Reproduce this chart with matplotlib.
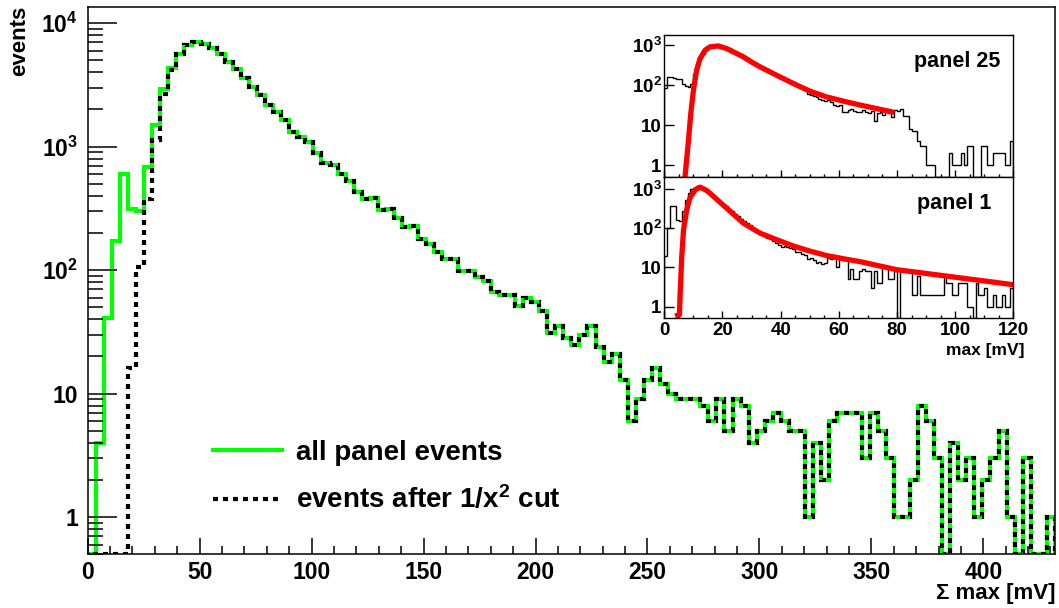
import numpy as np
import matplotlib
matplotlib.use('Agg')
import matplotlib.pyplot as plt
from matplotlib.lines import Line2D
from matplotlib.ticker import FixedLocator, MultipleLocator, LogLocator, NullFormatter

plt.rcParams['font.family'] = ['Liberation Sans', 'DejaVu Sans']
plt.rcParams['font.weight'] = 'bold'
plt.rcParams['mathtext.fontset'] = 'custom'
plt.rcParams['mathtext.rm'] = 'Liberation Sans:bold'
plt.rcParams['mathtext.it'] = 'Liberation Sans:bold'
plt.rcParams['mathtext.bf'] = 'Liberation Sans:bold'

# main histogram: 120 bins of 3.6 mV between 0 and 432 mV
edges = np.linspace(0, 432, 121)
all_events = [0, 4, 41, 173, 605, 312, 303, 689, 1506, 2917,
              4345, 5612, 6633, 7063, 6800, 6300, 5650, 4875, 4285, 3589,
              3034, 2625, 2178, 1901, 1648, 1325, 1207, 1100, 895, 735,
              712, 599, 528, 433, 378, 383, 308, 313, 264, 223,
              228, 178, 163, 139, 124, 122, 99, 99, 88, 82,
              67, 63, 63, 51, 59, 55, 47, 31, 35, 28,
              25, 30, 35, 24, 18, 21, 13, 6, 9, 13,
              16, 12, 10, 9, 9, 9, 8, 6, 9, 5,
              9, 8, 4, 5, 6, 7, 6, 5, 5, 1,
              4, 2, 6, 7, 7, 7, 3, 7, 5, 3,
              1, 1, 2, 8, 6, 3, 0, 4, 2, 3,
              1, 2, 3, 5, 1, 0, 3, 0, 0, 1]
# after the 1/x^2 cut only the first bins differ
cut_low = [0, 0, 0, 0, 0, 16, 107, 374, 1127, 2650, 4150]
after_cut = cut_low + all_events[len(cut_low):]

# insets: 1 mV bins, 0..120 mV
inset_edges = np.arange(0, 121)
panel25 = [83, 160, 160, 150, 140, 140, 110, 95, 88, 110,
           190, 330, 480, 620, 750, 860, 920, 960, 970, 960,
           920, 880, 830, 760, 700, 650, 600, 540, 470, 420,
           380, 350, 320, 290, 265, 250, 220, 200, 190, 175,
           165, 150, 140, 125, 118, 110, 90, 85, 78, 62,
           58, 55, 52, 45, 42, 40, 42, 38, 33, 31,
           32, 22, 21, 24, 25, 23, 22, 21, 24, 22,
           20, 23, 13, 20, 21, 18, 22, 20, 16, 24,
           23, 25, 17, 17, 8, 7, 7, 4, 3, 3,
           1, 1, 1, 0, 0, 0, 0, 0, 2, 1,
           1, 1, 2, 1, 3, 3, 0, 0, 0, 3,
           3, 1, 1, 2, 2, 2, 2, 1, 1, 4]
panel1 = [20, 100, 360, 360, 165, 150, 270, 530, 790, 980,
          1060, 1170, 1100, 1000, 870, 790, 690, 610, 530, 465,
          420, 375, 315, 270, 230, 200, 175, 150, 135, 122,
          100, 95, 83, 72, 64, 56, 53, 46, 43, 38,
          34, 36, 34, 32, 30, 25, 24, 22, 21, 16,
          17, 15, 13, 14, 12, 13, 17, 16, 17, 10,
          16, 15, 15, 5, 9, 5, 5, 8, 9, 8,
          8, 3, 8, 4, 4, 10, 10, 5, 5, 8,
          0, 8, 8, 8, 8, 2, 2, 6, 2, 2,
          2, 2, 2, 2, 2, 2, 6, 4, 4, 2,
          2, 4, 4, 4, 1, 1, 0, 4, 2, 2,
          3, 1, 1, 2, 1, 1, 2, 1, 1, 3]

# fit curves
fit25_x = [7.1, 8.3, 9.1, 10, 11.1, 12.3, 14, 15.7, 18.6, 21.4, 24.3, 27.2,
           30, 32.9, 38.6, 44.4, 50.1, 55.8, 61.6, 67.3, 72, 79.1]
fit25_y = [0.5, 4.2, 19.5, 75, 237, 465, 750, 910, 960, 825, 650, 510,
           380, 288, 178, 110, 71, 51, 40, 32, 27, 21]
fit1_x = [3.7, 5.2, 5.4, 6.0, 6.6, 7.7, 8.8, 10.6, 12.3, 14.6, 16.9, 21.4,
          27.2, 32.9, 38.6, 44.4, 50.1, 55.8, 61.6, 67.3, 80, 90, 100, 110, 120]
fit1_y = [0.57, 0.62, 1.8, 19, 91, 295, 590, 960, 1120, 920, 650, 327,
          134, 75, 51, 35, 26, 20, 16.6, 14, 8.7, 7, 5.6, 4.5, 3.6]


def at_floor(v, low):
    # empty bins are drawn along the bottom of the frame, as ROOT does
    v = np.asarray(v, dtype=float)
    return np.where(v > 0, v, low)


fig = plt.figure(figsize=(10.59, 6.08), dpi=100)
ax = fig.add_axes([0.0828, 0.0883, 0.9134, 0.9007])

ax.stairs(at_floor(all_events, 0.5), edges, color='#00ff00', lw=3.0)
ax.stairs(at_floor(after_cut, 0.5), edges, color='black', lw=3.0,
          linestyle=(0, (1.2, 1.2)))

ax.set_yscale('log')
ax.set_xlim(0, 432)
ax.set_ylim(0.5, 1.36e4)
ax.yaxis.set_major_locator(FixedLocator([1, 10, 100, 1000, 10000]))
ax.set_yticklabels(['1', '10', '$10^{2}$', '$10^{3}$', '$10^{4}$'])
ax.yaxis.set_minor_locator(LogLocator(base=10, subs=np.arange(2, 10)))
ax.yaxis.set_minor_formatter(NullFormatter())
ax.xaxis.set_major_locator(MultipleLocator(50))
ax.xaxis.set_minor_locator(MultipleLocator(10))
ax.tick_params(axis='y', which='major', direction='in', length=21, width=1.1,
               labelsize=16.5, pad=7)
ax.tick_params(axis='y', which='minor', direction='in', length=11, width=1.1)
ax.tick_params(axis='x', which='major', direction='in', length=11.5, width=1.1,
               labelsize=16.5, pad=5)
ax.tick_params(axis='x', which='minor', direction='in', length=6, width=1.1)
for s in ax.spines.values():
    s.set_linewidth(1.1)

fig.text(0.019, 0.99, 'events', rotation=90, ha='center', va='top', fontsize=16)
fig.text(1055 / 1059, 1 - 594 / 608, '\u03a3 max [mV]', ha='right', va='center',
         fontsize=16)

handles = [Line2D([], [], color='#00ff00', lw=3.0),
           Line2D([], [], color='black', lw=3.0, linestyle=(0, (1.2, 1.2)))]
ax.legend(handles, ['all panel events', 'events after 1/x$^{2}$ cut'],
          loc='center left', bbox_to_anchor=(0.1295, 0.141), frameon=False,
          fontsize=20, handlelength=2.5, handletextpad=0.5, labelspacing=0.72,
          borderpad=0, borderaxespad=0)

# insets
ax_top = fig.add_axes([0.6273, 0.7084, 0.3296, 0.234])
ax_bot = fig.add_axes([0.6273, 0.4765, 0.3296, 0.2319])

insets = [(ax_top, panel25, fit25_x, fit25_y, 'panel 25', 1800, 0.962),
          (ax_bot, panel1, fit1_x, fit1_y, 'panel 1', 2000, 0.936)]
for a, hist, fx, fy, name, top, tx in insets:
    a.stairs(at_floor(hist, 0.5), inset_edges, color='black', lw=1.0)
    a.plot(fx, fy, color='red', lw=3.8, solid_capstyle='butt')
    a.set_yscale('log')
    a.set_xlim(0, 120)
    a.set_ylim(0.5, top)
    a.yaxis.set_major_locator(FixedLocator([1, 10, 100, 1000]))
    a.set_yticklabels(['1', '10', '$10^{2}$', '$10^{3}$'])
    a.yaxis.set_minor_locator(LogLocator(base=10, subs=np.arange(2, 10)))
    a.yaxis.set_minor_formatter(NullFormatter())
    a.xaxis.set_major_locator(MultipleLocator(20))
    a.xaxis.set_minor_locator(MultipleLocator(5))
    a.tick_params(axis='y', which='major', direction='in', length=7.5, width=1.0,
                  labelsize=13.5, pad=2)
    a.tick_params(axis='y', which='minor', direction='in', length=4, width=1.0)
    a.tick_params(axis='x', which='major', direction='in', length=5, width=1.0,
                  labelsize=13.5, pad=2.5)
    a.tick_params(axis='x', which='minor', direction='in', length=2.5, width=1.0)
    for s in a.spines.values():
        s.set_linewidth(1.0)
    a.text(tx, 0.815, name, transform=a.transAxes, ha='right', va='center',
           fontsize=15.5)

ax_top.tick_params(axis='x', labelbottom=False)
fig.text(1024 / 1059, 1 - 350 / 608, 'max [mV]', ha='right', va='center',
         fontsize=12.5)

fig.savefig('out.png', dpi=100)
